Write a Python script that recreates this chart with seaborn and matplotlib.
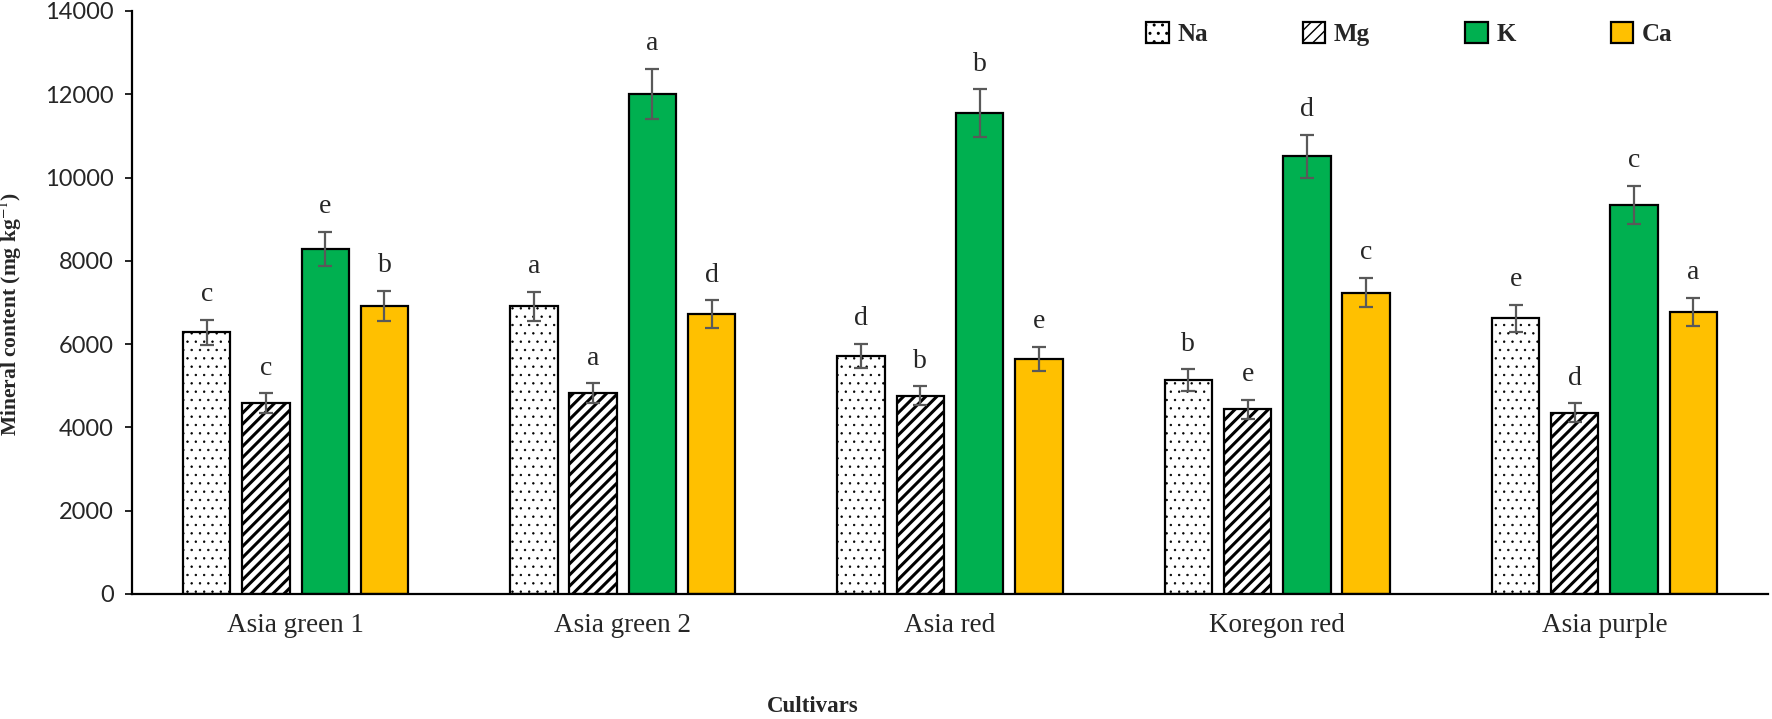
import numpy as np
import pandas as pd
import matplotlib.pyplot as plt
import seaborn as sns

# data
cultivars = ['Asia green 1', 'Asia green 2', 'Asia red', 'Koregon red', 'Asia purple']
minerals = ['Na', 'Mg', 'K', 'Ca']

na = [6280, 6910, 5720, 5140, 6620]
mg = [4590, 4830, 4765, 4440, 4355]
k = [8280, 12010, 11550, 10510, 9340]
ca = [6920, 6720, 5650, 7240, 6770]

na_se = [310, 350, 290, 255, 320]
mg_se = [235, 235, 220, 230, 230]
k_se = [415, 600, 575, 520, 465]
ca_se = [360, 340, 290, 355, 345]

na_let = ['c', 'a', 'd', 'b', 'e']
mg_let = ['c', 'a', 'b', 'e', 'd']
k_let = ['e', 'a', 'b', 'd', 'c']
ca_let = ['b', 'd', 'e', 'c', 'a']

colors = ['white', 'white', '#00B050', '#FFC000']
hatches = ['..', '///', '', '']
hatch_lw = [0.5, 2.2, 1.0, 1.0]

errors = [na_se, mg_se, k_se, ca_se]
letters = [na_let, mg_let, k_let, ca_let]

df = pd.DataFrame({
    'cultivar': cultivars * 4,
    'mineral': np.repeat(minerals, len(cultivars)),
    'value': na + mg + k + ca,
})

sns.set_style('ticks')
plt.rcParams['font.family'] = ['Liberation Serif', 'DejaVu Serif']
plt.rcParams['mathtext.fontset'] = 'stix'

fig = plt.figure(figsize=(17.72, 7.19), dpi=100)
ax = fig.add_axes([132 / 1772, 1 - 594 / 719, 1636 / 1772, 583 / 719])

sns.barplot(data=df, x='cultivar', y='value', hue='mineral', order=cultivars,
            hue_order=minerals, palette=colors, width=0.724, gap=0.2,
            edgecolor='black', linewidth=1.6, errorbar=None, legend=False,
            saturation=1, ax=ax)

bars = list(ax.containers)
for i, cont in enumerate(bars):
    xs = []
    ys = []
    for p in cont:
        p.set_hatch(hatches[i])
        if hasattr(p, 'set_hatch_linewidth'):
            p.set_hatch_linewidth(hatch_lw[i])
        xs.append(p.get_x() + p.get_width() / 2)
        ys.append(p.get_height())
    ax.errorbar(xs, ys, yerr=errors[i], fmt='none', ecolor='#595959',
                elinewidth=1.6, capsize=5, capthick=1.6, zorder=5)
    for x, y, e, t in zip(xs, ys, errors[i], letters[i]):
        ax.annotate(t, (x, y + e), xytext=(0, 9), textcoords='offset points',
                    ha='center', va='bottom', fontsize=20,
                    family='Liberation Serif')

ax.set_ylim(0, 14000)
ax.set_yticks(range(0, 14001, 2000))
ax.set_xlim(-0.5, 4.5)
for s in ['top', 'right']:
    ax.spines[s].set_visible(False)
for s in ['left', 'bottom']:
    ax.spines[s].set_linewidth(1.6)
    ax.spines[s].set_color('black')

ax.tick_params(axis='y', length=5, width=1.4, pad=8, labelsize=17)
ax.tick_params(axis='x', length=0, pad=14, labelsize=19.5)
for lab in ax.get_yticklabels():
    lab.set_family(['Lato', 'DejaVu Sans'])

ax.set_xlabel('')
ax.set_ylabel(r'Mineral content (mg kg$^{-1}$)', fontsize=15.5,
              fontweight='bold')
ax.yaxis.set_label_coords(-0.066, 0.48)
fig.text(813 / 1772, 1 - 707 / 719, 'Cultivars', ha='center', va='center',
         fontsize=16.5, fontweight='bold')

ax.legend(bars, minerals, loc='center left',
          bbox_to_anchor=(1146 / 1772, 1 - 34 / 719),
          bbox_transform=fig.transFigure, ncol=4, frameon=False,
          prop={'family': 'Liberation Serif', 'weight': 'bold', 'size': 18},
          handlelength=0.9, handleheight=0.9, handletextpad=0.35,
          columnspacing=3.8, borderpad=0, borderaxespad=0)

fig.savefig('out.png', dpi=100)
